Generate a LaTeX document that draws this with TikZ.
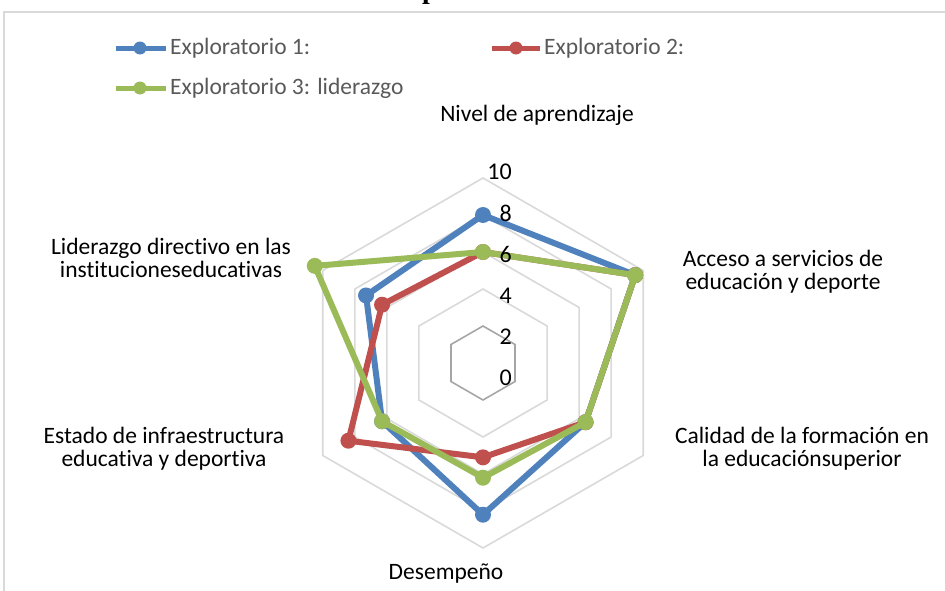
\documentclass[tikz,border=0pt]{standalone}
\usepackage{fontspec}
\setmainfont{Carlito}[Ligatures=NoCommon]
\newfontfamily\titlefont{Liberation Serif}
\usepackage{xcolor}
\usetikzlibrary{arrows,positioning}
\definecolor{exblue}{HTML}{4F81BD}
\definecolor{exred}{HTML}{C0504D}
\definecolor{exgreen}{HTML}{9BBB59}
\definecolor{gridgray}{HTML}{D9D9D9}
\definecolor{leggray}{HTML}{595959}
\tikzstyle{sv}=[circle, inner sep=0pt, minimum size=16pt]
\tikzstyle{lsv}=[circle, inner sep=0pt, minimum size=13pt]
\tikzstyle{grid}=[draw=gridgray, line width=1.6pt]
\tikzstyle{ser}=[line width=6pt, line join=round, line cap=round]
\tikzstyle{lbl}=[align=center, inner sep=0pt, font=\fontsize{23.5}{23}\selectfont]
\tikzstyle{num}=[anchor=east, inner sep=0pt, font=\fontsize{24}{26}\selectfont]
\tikzstyle{leg}=[inner sep=0pt, text=leggray, font=\fontsize{23.5}{25}\selectfont]
\def\u{18.5}

\begin{document}
\begin{tikzpicture}[x=1pt, y=1pt, node distance=4pt]
%
  \clip (-483,-227) rectangle (462,363);
  \draw[grid] (-479,351) rectangle (600,-400);
  \node[anchor=base, inner sep=0pt, font=\titlefont\bfseries\fontsize{28}{30}\selectfont] (title) at (-53,364) {p};
%
  \foreach \v in {4,6,8,10}
    \draw[grid] (90:\v*\u) \foreach \a in {30,-30,-90,-150,150} { -- (\a:\v*\u) } -- cycle;
  \draw[draw=gray!70, line width=1.6pt] (90:2*\u) \foreach \a in {30,-30,-90,-150,150} { -- (\a:2*\u) } -- cycle;
%
  \node[lbl] (nivel) at (54,248) {Nivel de aprendizaje};
  \node[lbl] (acceso) at (300,91) {Acceso a servicios de\\educación y deporte};
  \node[lbl] (calidad) at (319,-86) {Calidad de la formación en\\la educaciónsuperior};
  \node[lbl] (desem) at (-37,-211) {Desempeño};
  \node[lbl] (estado) at (-319,-86) {Estado de infraestructura\\educativa y deportiva};
  \node[lbl] (lider) at (-312,105) {Liderazgo directivo en las\\institucioneseducativas};
%
  \coordinate (b1) at (90:8*\u);
  \coordinate (b2) at (30:9.5*\u);
  \coordinate (b3) at (-30:6.4*\u);
  \coordinate (b4) at (-90:8.2*\u);
  \coordinate (b5) at (-150:6.3*\u);
  \coordinate (b6) at (150:7.3*\u);
%
  \coordinate (r1) at (90:6*\u);
  \coordinate (r2) at (30:9.5*\u);
  \coordinate (r3) at (-30:6.4*\u);
  \coordinate (r4) at (-90:5.1*\u);
  \coordinate (r5) at (-150:8.4*\u);
  \coordinate (r6) at (150:6.3*\u);
%
  \coordinate (g1) at (90:6*\u);
  \coordinate (g2) at (30:9.5*\u);
  \coordinate (g3) at (-30:6.4*\u);
  \coordinate (g4) at (-90:6.2*\u);
  \coordinate (g5) at (-150:6.3*\u);
  \coordinate (g6) at (150:10.5*\u);
%
  \draw[ser, exblue] (b1) -- (b2) -- (b3) -- (b4) -- (b5) -- (b6) -- cycle;
  \foreach \i in {1,...,6}
    \node[sv, fill=exblue] (mb\i) at (b\i) {};
  \draw[ser, exred] (r1) -- (r2) -- (r3) -- (r4) -- (r5) -- (r6) -- cycle;
  \foreach \i in {1,...,6}
    \node[sv, fill=exred] (mr\i) at (r\i) {};
  \draw[ser, exgreen] (g1) -- (g2) -- (g3) -- (g4) -- (g5) -- (g6) -- cycle;
  \foreach \i in {1,...,6}
    \node[sv, fill=exgreen] (mg\i) at (g\i) {};
%
  \foreach \v in {0,2,...,10}
    \node[num] (n\v) at (29,-15+20.6*\v) {\v};
%
  \coordinate (la1) at (-367,315);
  \coordinate (lb1) at (-317,315);
  \draw[ser, exblue, line cap=butt, line width=5pt] (la1) -- (lb1);
  \node[lsv, fill=exblue] (lm1) at (-343,315) {};
  \node[leg, right=of lb1] (lt1) {Exploratorio 1:};
%
  \coordinate (la2) at (9,315);
  \coordinate (lb2) at (57,315);
  \draw[ser, exred, line cap=butt, line width=5pt] (la2) -- (lb2);
  \node[lsv, fill=exred] (lm2) at (33,315) {};
  \node[leg, right=of lb2] (lt2) {Exploratorio 2:};
%
  \coordinate (la3) at (-367,275);
  \coordinate (lb3) at (-317,275);
  \draw[ser, exgreen, line cap=butt, line width=5pt] (la3) -- (lb3);
  \node[lsv, fill=exgreen] (lm3) at (-343,275) {};
  \node[leg, right=of lb3] (lt3) {Exploratorio 3: liderazgo};
\end{tikzpicture}
\end{document}
